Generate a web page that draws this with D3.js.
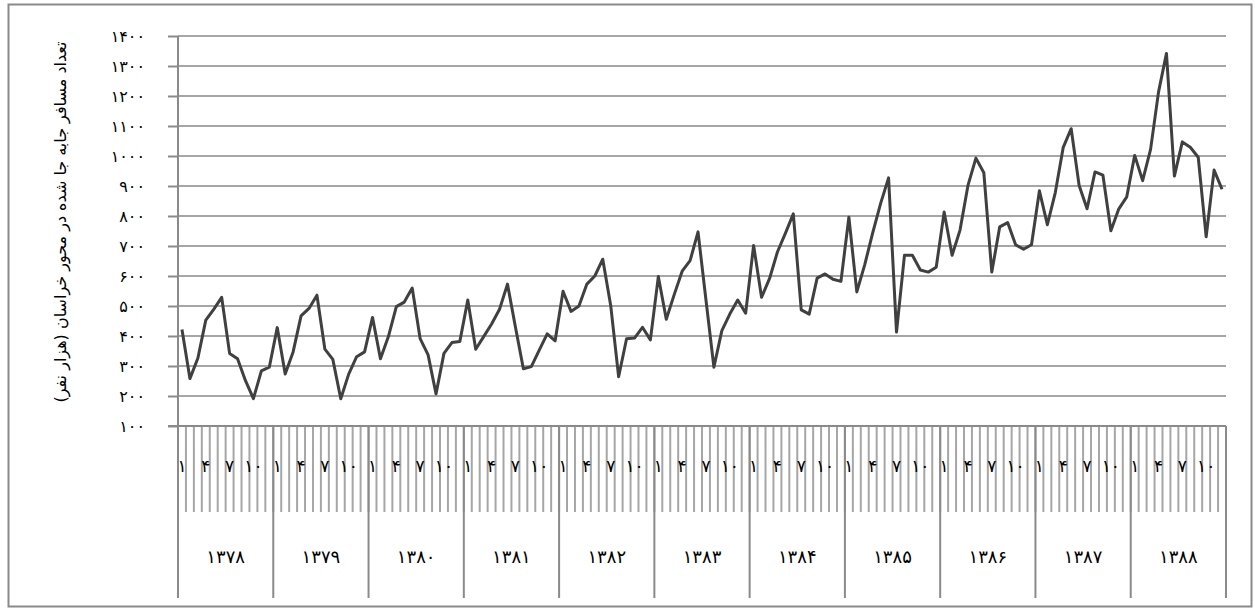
<!DOCTYPE html>
<html lang="fa">
<head>
<meta charset="utf-8">
<script src="https://cdn.jsdelivr.net/npm/d3@7"></script>
<style>
  html, body { margin: 0; padding: 0; background: #fff; }
  svg { display: block; }
  text { font-family: "DejaVu Sans", "Noto Sans", sans-serif; fill: #000; }
</style>
</head>
<body>
<svg id="chart" width="1255" height="609"></svg>
<script>
// Monthly passengers moved on the Khorasan corridor (thousand persons), by Persian year
const years = ["1378", "1379", "1380", "1381", "1382", "1383", "1384", "1385", "1386", "1387", "1388"];
const months = [1, 2, 3, 4, 5, 6, 7, 8, 9, 10, 11, 12];
const labelledMonths = [1, 4, 7, 10];
const v1378 = [422, 258, 326, 453, 489, 529, 342, 324, 251, 191, 284, 296];
const v1379 = [428, 273, 347, 467, 492, 536, 356, 322, 191, 273, 331, 347];
const v1380 = [462, 324, 398, 498, 513, 560, 391, 337, 207, 342, 378, 382];
const v1381 = [520, 356, 398, 440, 489, 573, 430, 291, 298, 353, 407, 384];
const v1382 = [549, 482, 500, 573, 600, 656, 502, 264, 391, 393, 429, 387];
const v1383 = [598, 456, 538, 616, 651, 747, 520, 296, 418, 473, 520, 476];
const v1384 = [702, 529, 591, 680, 742, 807, 487, 473, 593, 607, 589, 582];
const v1385 = [796, 547, 638, 744, 842, 927, 413, 669, 669, 620, 613, 629];
const v1386 = [813, 669, 753, 902, 993, 944, 613, 764, 778, 704, 689, 704];
const v1387 = [884, 771, 878, 1029, 1091, 902, 824, 947, 936, 751, 824, 864];
const v1388 = [1002, 918, 1022, 1213, 1342, 933, 1047, 1029, 996, 731, 953, 889];
const yearValues = [v1378, v1379, v1380, v1381, v1382, v1383, v1384, v1385, v1386, v1387, v1388];
const yTicks = [100, 200, 300, 400, 500, 600, 700, 800, 900, 1000, 1100, 1200, 1300, 1400];
const yTitle = "تعداد مسافر جابه جا شده در محور خراسان (هزار نفر)";

const faDigits = "۰۱۲۳۴۵۶۷۸۹";
const fa = s => String(s).replace(/\d/g, d => faDigits[d]);

// Flatten to one series of {key, year, month, value}
const series = [];
years.forEach((yr, yi) => {
  months.forEach((m, mi) => {
    series.push({ key: yr + "-" + m, year: yr, month: m, value: yearValues[yi][mi] });
  });
});

const svg = d3.select("#chart");
const plot = { left: 178, right: 1226, top: 36, bottom: 426 };
const monthAxisBottom = 512;
const yearAxisBottom = 598;

const x = d3.scaleBand()
  .domain(series.map(d => d.key))
  .range([plot.left, plot.right])
  .padding(0);
const xYear = d3.scaleBand()
  .domain(years)
  .range([plot.left, plot.right])
  .padding(0);
const y = d3.scaleLinear()
  .domain([100, 1400])
  .range([plot.bottom, plot.top]);

// Outer chart frame
svg.append("rect")
  .attr("x", 8.5).attr("y", 4.5)
  .attr("width", 1243).attr("height", 602)
  .attr("fill", "none")
  .attr("stroke", "#8a8a8a")
  .attr("stroke-width", 2);

// Horizontal gridlines
svg.append("g").selectAll("line")
  .data(yTicks.filter(t => t !== 100))
  .join("line")
  .attr("x1", plot.left).attr("x2", plot.right)
  .attr("y1", d => y(d)).attr("y2", d => y(d))
  .attr("stroke", "#a6a6a6")
  .attr("stroke-width", 2);

// Y axis with outside tick marks
const yAxis = svg.append("g")
  .attr("transform", `translate(${plot.left},0)`)
  .call(d3.axisLeft(y).tickValues(yTicks).tickSize(10).tickPadding(23).tickFormat(fa));
yAxis.select(".domain").remove();
yAxis.selectAll(".tick line").attr("stroke", "#8a8a8a").attr("stroke-width", 2);
yAxis.selectAll(".tick text")
  .style("font-size", "16px")
  .attr("fill", "#000")
  .attr("direction", "ltr");

// Month tick lines below the plot
svg.append("g").selectAll("line")
  .data(series.slice(1))
  .join("line")
  .attr("x1", d => x(d.key)).attr("x2", d => x(d.key))
  .attr("y1", plot.bottom).attr("y2", monthAxisBottom)
  .attr("stroke", "#a6a6a6")
  .attr("stroke-width", 2);

// Year separators spanning both label rows
svg.append("g").selectAll("line")
  .data(years.concat(["end"]))
  .join("line")
  .attr("x1", (d, i) => i < years.length ? xYear(d) : plot.right)
  .attr("x2", (d, i) => i < years.length ? xYear(d) : plot.right)
  .attr("y1", plot.bottom).attr("y2", yearAxisBottom)
  .attr("stroke", "#8a8a8a")
  .attr("stroke-width", 2);

// Y axis line and x baseline
svg.append("line")
  .attr("x1", plot.left).attr("x2", plot.left)
  .attr("y1", plot.top).attr("y2", yearAxisBottom)
  .attr("stroke", "#8a8a8a").attr("stroke-width", 2);
svg.append("line")
  .attr("x1", plot.left - 10).attr("x2", plot.right)
  .attr("y1", plot.bottom).attr("y2", plot.bottom)
  .attr("stroke", "#8a8a8a").attr("stroke-width", 2);

// Month labels (1, 4, 7, 10)
svg.append("g").selectAll("text")
  .data(series.filter(d => labelledMonths.includes(d.month)))
  .join("text")
  .attr("x", d => x(d.key) + x.bandwidth() / 2)
  .attr("y", 466)
  .attr("text-anchor", "middle")
  .attr("dominant-baseline", "central")
  .attr("direction", "ltr")
  .style("font-size", "17px")
  .text(d => fa(d.month));

// Year labels
svg.append("g").selectAll("text")
  .data(years)
  .join("text")
  .attr("x", d => xYear(d) + xYear.bandwidth() / 2)
  .attr("y", 556)
  .attr("text-anchor", "middle")
  .attr("dominant-baseline", "central")
  .attr("direction", "ltr")
  .style("font-size", "18px")
  .text(d => fa(d));

// Y axis title
svg.append("text")
  .attr("transform", "translate(60,222) rotate(-90)")
  .attr("text-anchor", "middle")
  .attr("dominant-baseline", "central")
  .attr("direction", "rtl")
  .style("font-size", "16px")
  .text(yTitle);

// Passenger line
const line = d3.line()
  .x(d => x(d.key) + x.bandwidth() / 2)
  .y(d => y(d.value));
svg.append("path")
  .datum(series)
  .attr("d", line)
  .attr("fill", "none")
  .attr("stroke", "#404040")
  .attr("stroke-width", 3)
  .attr("stroke-linejoin", "round");
</script>
</body>
</html>
